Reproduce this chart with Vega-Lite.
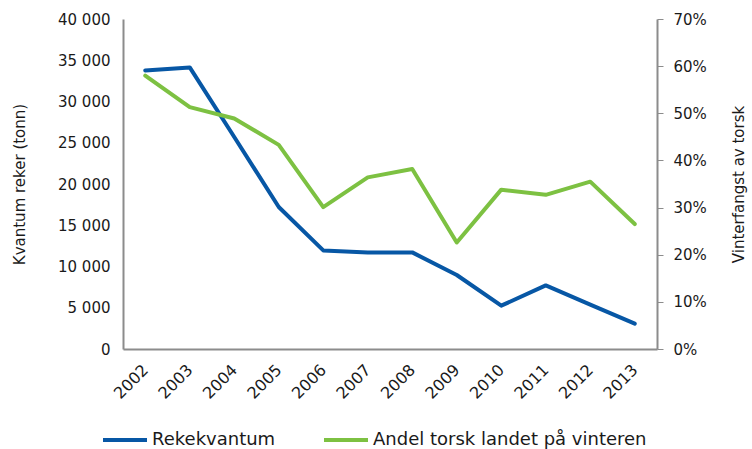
{
  "$schema": "https://vega.github.io/schema/vega-lite/v6.json",
  "width": 534,
  "height": 330,
  "autosize": {"type": "none"},
  "padding": {"left": 123, "top": 19, "right": 95, "bottom": 100},
  "background": "white",
  "config": {
    "font": "DejaVu Sans",
    "view": {"stroke": null},
    "axis": {"grid": false, "labelColor": "#1a1a1a", "titleColor": "#1a1a1a", "titleFontWeight": "normal", "domainColor": "#8c8c8c", "tickColor": "#8c8c8c", "labelFontSize": 15, "titleFontSize": 15}
  },
  "data": {
    "values": [
      {"year": "2002", "reke": 33770, "andel": 0.580},
      {"year": "2003", "reke": 34130, "andel": 0.513},
      {"year": "2004", "reke": 25700, "andel": 0.489},
      {"year": "2005", "reke": 17210, "andel": 0.433},
      {"year": "2006", "reke": 11950, "andel": 0.301},
      {"year": "2007", "reke": 11710, "andel": 0.364},
      {"year": "2008", "reke": 11710, "andel": 0.382},
      {"year": "2009", "reke": 8970, "andel": 0.226},
      {"year": "2010", "reke": 5250, "andel": 0.338},
      {"year": "2011", "reke": 7710, "andel": 0.327},
      {"year": "2012", "reke": 5370, "andel": 0.355},
      {"year": "2013", "reke": 3070, "andel": 0.265}
    ]
  },
  "encoding": {
    "x": {
      "field": "year", "type": "ordinal",
      "scale": {"type": "point", "padding": 0.5},
      "axis": {"title": null, "labelAngle": -45, "labelAlign": "right", "labelBaseline": "middle", "ticks": false, "labelPadding": 18, "labelFontSize": 16, "domainWidth": 2}
    }
  },
  "layer": [
    {
      "mark": {"type": "line", "strokeWidth": 4, "strokeCap": "round", "strokeJoin": "round"},
      "encoding": {
        "y": {
          "field": "reke", "type": "quantitative",
          "scale": {"domain": [0, 40000], "nice": false},
          "axis": {"title": "Kvantum reker (tonn)", "values": [0,5000,10000,15000,20000,25000,30000,35000,40000], "labelExpr": "replace(format(datum.value, ','), ',', ' ')", "ticks": false, "labelPadding": 13, "titlePadding": 30, "domainWidth": 2}
        },
        "color": {
          "datum": "Rekekvantum", "type": "nominal",
          "scale": {"domain": ["Rekekvantum", "Andel torsk landet på vinteren"], "range": ["#0757a5", "#7dc142"]},
          "legend": {"title": null, "orient": "none", "direction": "horizontal", "legendX": -22, "legendY": 397, "symbolType": "stroke", "symbolSize": 1936, "symbolStrokeWidth": 4, "labelFontSize": 18, "labelColor": "#1a1a1a", "labelOffset": 3, "labelLimit": 400, "columnPadding": 40, "symbolOpacity": 1}
        }
      }
    },
    {
      "mark": {"type": "line", "strokeWidth": 4, "strokeCap": "round", "strokeJoin": "round"},
      "encoding": {
        "y": {
          "field": "andel", "type": "quantitative",
          "scale": {"domain": [0, 0.7], "nice": false},
          "axis": {"orient": "right", "title": "Vinterfangst av torsk", "titleAngle": -90, "format": ".0%", "values": [0,0.1,0.2,0.3,0.4,0.5,0.6,0.7], "tickSize": 6, "labelPadding": 10, "titlePadding": 40, "domainWidth": 2}
        },
        "color": {"datum": "Andel torsk landet på vinteren", "type": "nominal"}
      }
    }
  ],
  "resolve": {"scale": {"y": "independent"}}
}
